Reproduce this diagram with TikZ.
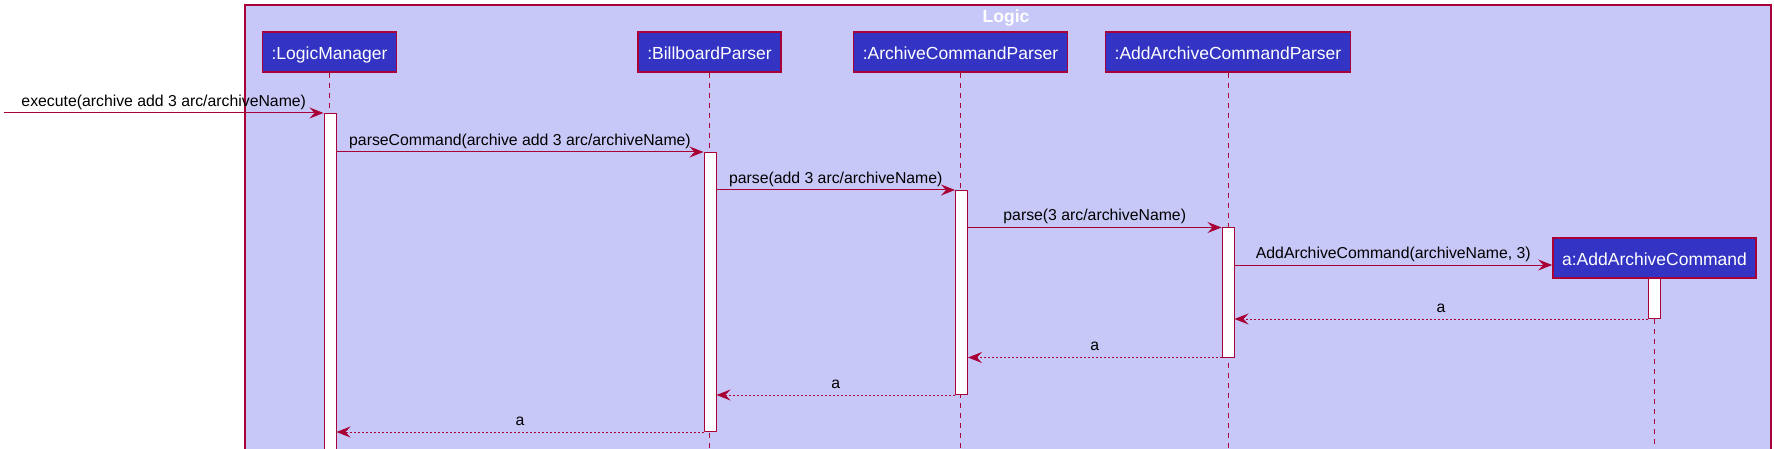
\documentclass[tikz,border=0pt]{standalone}
\usepackage{fontspec}
\setmainfont{Liberation Sans}
\definecolor{frameFill}{RGB}{200,200,248}
\definecolor{headBlue}{RGB}{51,51,196}
\definecolor{lineRed}{RGB}{168,0,54}
\usetikzlibrary{arrows.meta,positioning,calc}

\begin{document}
\begin{tikzpicture}[x=0.5pt,y=-0.5pt,
    participant/.style={draw=lineRed,fill=headBlue,line width=0.75pt,text=white,
                        font=\fontsize{8.75}{10}\selectfont,minimum height=20pt,inner xsep=4.6pt,
                        text height=0.72em,text depth=0pt},
    lifeline/.style={lineRed,line width=0.5pt,dash pattern=on 2.5pt off 2.5pt},
    activation/.style={draw=lineRed,fill=white,line width=0.5pt,minimum width=6pt,inner sep=0pt,anchor=north},
    call/.style={lineRed,line width=0.5pt,-{Stealth[length=7pt,width=5.5pt,inset=2.5pt]}},
    reply/.style={call,dash pattern=on 1pt off 1pt},
    msg/.style={font=\fontsize{7.9}{9}\selectfont,text=black,inner sep=1pt,
                text height=0.75em,text depth=0.21em}
]
    \useasboundingbox (0,0) rectangle (1774,449);
    \clip (0,0) rectangle (1774,449);
    \draw[lineRed,fill=frameFill,line width=0.75pt] (245,5) rectangle (1771,470);
    \node[font=\bfseries\fontsize{8.75}{10}\selectfont,text=white] (title) at (1006,18) {Logic};

    \node[participant] (lm) at (329.5,52) {:LogicManager};
    \node[participant] (bp) at (709.5,52) {:BillboardParser};
    \node[participant] (acp) at (960.5,52) {:ArchiveCommandParser};
    \node[participant] (aacp) at (1228,52) {:AddArchiveCommandParser};
    \node[participant] (aac) at (1654.5,258) {a:AddArchiveCommand};

    \foreach \p in {lm,bp,acp,aacp,aac}
        \draw[lifeline] (\p.south) -- (\p.south |- 0,470);

    \node[activation,minimum height=178pt] (lmAct) at (330,113) {};
    \node[activation,minimum height=139.5pt] (bpAct) at (710,152) {};
    \node[activation,minimum height=102pt] (acpAct) at (961.5,190) {};
    \node[activation,minimum height=64.5pt] (aacpAct) at (1228,227.5) {};
    \node[activation,minimum height=20pt] (aacAct) at (1654,278) {};

    \coordinate (entry) at (4,113);
    \draw[call] (entry) -- node[msg,above]{execute(archive add 3 arc/archiveName)} (lmAct.north west);
    \draw[call] (lmAct.east |- bpAct.north) -- node[msg,above]{parseCommand(archive add 3 arc/archiveName)} (bpAct.north west);
    \draw[call] (bpAct.east |- acpAct.north) -- node[msg,above]{parse(add 3 arc/archiveName)} (acpAct.north west);
    \draw[call] (acpAct.east |- aacpAct.north) -- node[msg,above]{parse(3 arc/archiveName)} (aacpAct.north west);
    \draw[call] (aacpAct.east |- 0,265) -- node[msg,above]{AddArchiveCommand(archiveName, 3)} (aac.west |- 0,265);

    \draw[reply] (aacAct.south west) -- node[msg,above]{a} (aacpAct.east |- aacAct.south);
    \draw[reply] (aacpAct.south west) -- node[msg,above]{a} (acpAct.east |- aacpAct.south);
    \draw[reply] (acpAct.south west) -- node[msg,above]{a} (bpAct.east |- acpAct.south);
    \draw[reply] (bpAct.south west) -- node[msg,above]{a} (lmAct.east |- bpAct.south);
\end{tikzpicture}
\end{document}
